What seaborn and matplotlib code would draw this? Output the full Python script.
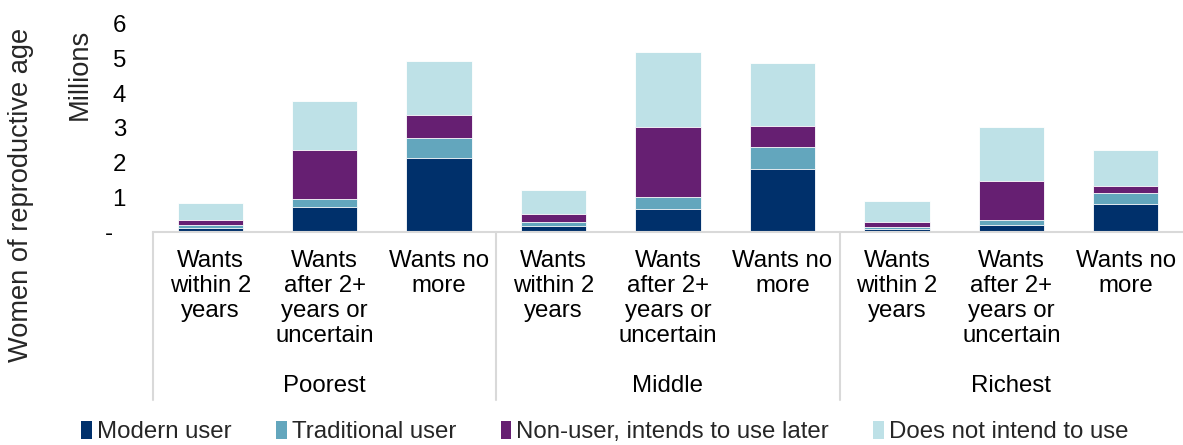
import matplotlib
matplotlib.use("Agg")
import matplotlib.pyplot as plt
import seaborn as sns
import pandas as pd
import numpy as np
from matplotlib.patches import Patch
import matplotlib.transforms as mtransforms

# ---- data ----
groups = ["Poorest", "Middle", "Richest"]
desires = ["Wants\nwithin 2\nyears", "Wants\nafter 2+\nyears or\nuncertain", "Wants no\nmore"]
series_names = ["Modern user", "Traditional user", "Non-user, intends to use later", "Does not intend to use"]
modern      = [0.12, 0.72, 2.13, 0.17, 0.66, 1.82, 0.10, 0.19, 0.82]
traditional = [0.07, 0.23, 0.58, 0.11, 0.34, 0.63, 0.04, 0.16, 0.30]
intends     = [0.16, 1.41, 0.66, 0.24, 2.03, 0.60, 0.16, 1.12, 0.20]
not_intend  = [0.50, 1.42, 1.56, 0.70, 2.17, 1.81, 0.58, 1.55, 1.03]
colors = ["#00306B", "#63A6BD", "#661F72", "#BEE1E7"]

sns.set_theme(style="white")
plt.rcParams["font.family"] = ["Liberation Sans", "DejaVu Sans"]
FS = 17.3
FSR = 19.6

keys = [f"{g}|{d}" for g in groups for d in desires]
labels = [d for g in groups for d in desires]
df = pd.DataFrame({"key": keys, "m": modern, "t": traditional, "i": intends, "n": not_intend})
cum = df[["m", "t", "i", "n"]].cumsum(axis=1)

fig = plt.figure(figsize=(11.83, 4.45), dpi=100)
ax = fig.add_axes([153/1183, (445-232)/445, (1183-153)/1183, 208.2/445])

for col, c in zip(["n", "i", "t", "m"], colors[::-1]):
    sns.barplot(x=df["key"], y=cum[col], order=keys, color=c, width=0.57,
                saturation=1, ax=ax, edgecolor="white", linewidth=0.6)

ax.set_xlim(-0.5, 8.5)
ax.set_ylim(0, 6)
ax.set_yticks(range(0, 7))
ax.set_yticklabels(["-  "] + [str(i) for i in range(1, 7)], fontsize=FS, color="#000000")
ax.tick_params(axis="y", length=0, pad=19.5)
ax.set_xticks(range(9))
ax.set_xticklabels(labels, fontsize=FS, color="#000000", va="top", linespacing=1.17)
ax.tick_params(axis="x", length=0, pad=13)
ax.set_xlabel("")
ax.set_ylabel("")
for s in ["top", "right", "left"]:
    ax.spines[s].set_visible(False)
ax.spines["bottom"].set_color("#D9D9D9")
ax.spines["bottom"].set_linewidth(1.5)

# group separators & labels
trans = mtransforms.blended_transform_factory(ax.transData, ax.transAxes)
ybot = (232 - 400) / 208.2
for xb in [-0.5, 2.5, 5.5]:
    ax.plot([xb, xb], [0, ybot], transform=trans, color="#D9D9D9", lw=1.5, clip_on=False)
ygrp = (232 - 386) / 208.2
for gi, g in enumerate(groups):
    ax.text(gi*3 + 1, ygrp, g, transform=trans, ha="center", va="center", fontsize=FS, color="#000000")

# axis titles
fig.text(80/1183, 1 - 74/445, "Millions", rotation=90, ha="center", va="center", fontsize=FSR)
fig.text(21/1183, 1 - 195/445, "Women of reproductive age", rotation=90, ha="center", va="center", fontsize=FSR)

handles = [Patch(facecolor=c, edgecolor="none") for c in colors]
fig.legend(handles, series_names, loc="center", bbox_to_anchor=(605/1183, 1 - 432/445),
           ncol=4, frameon=False, fontsize=FS, handlelength=0.45, handleheight=0.75,
           handletextpad=0.2, columnspacing=1.85, borderpad=0)

fig.savefig("out.png", dpi=100)
